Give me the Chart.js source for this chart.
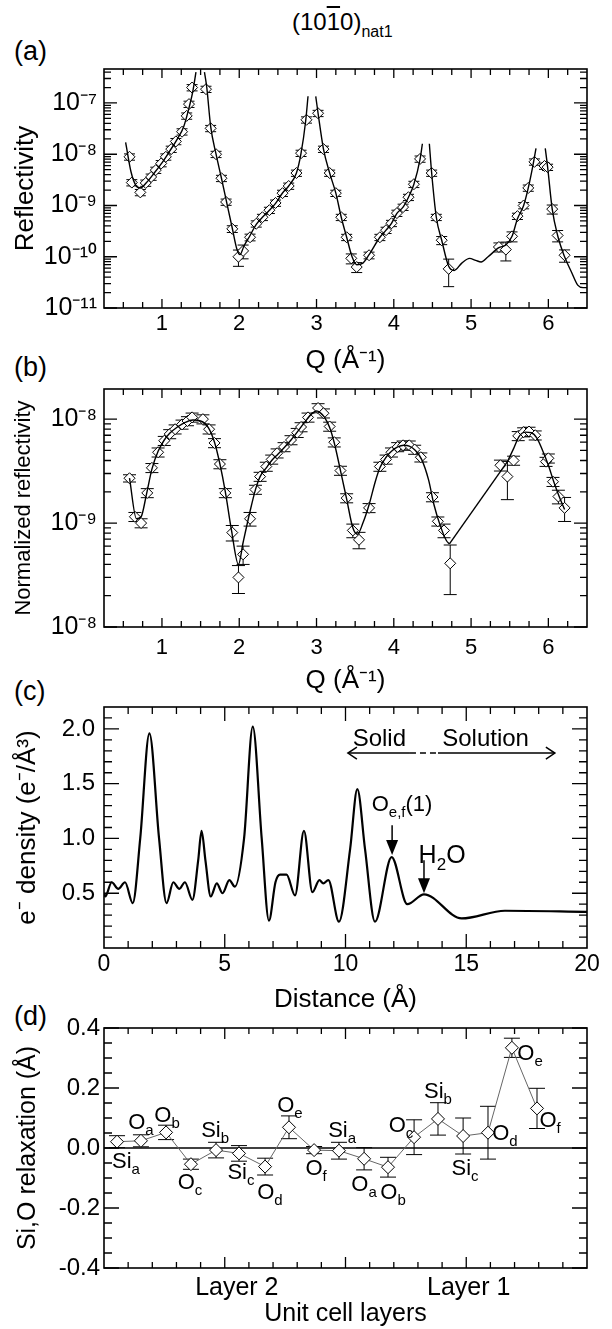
<!DOCTYPE html>
<html>
<head>
<meta charset="utf-8">
<script src="https://cdn.jsdelivr.net/npm/chart.js@4.4.1/dist/chart.umd.min.js"></script>
<style>
  body { margin: 0; background: #fff; width: 612px; height: 1329px; position: relative; overflow: hidden;
         font-family: "Liberation Sans", Arial, Helvetica, sans-serif; color: #000; }
  canvas { position: absolute; left: 0; }
  .tag { position: absolute; left: 14px; font-size: 27px; line-height: 1; }
</style>
</head>
<body>
<div class="tag" style="left:292px;top:10px;font-size:24px;">(10<span style="text-decoration:overline;">1</span>0)<span style="font-size:16px;position:relative;top:7px;">nat1</span></div>
<div class="tag" style="top:38px;">(a)</div>
<div class="tag" style="top:354px;">(b)</div>
<div class="tag" style="top:678px;">(c)</div>
<div class="tag" style="top:1003px;">(d)</div>

<canvas id="chartA" width="612" height="380" style="top:0px"></canvas>
<canvas id="chartB" width="612" height="340" style="top:360px"></canvas>
<canvas id="chartC" width="612" height="340" style="top:680px"></canvas>
<canvas id="chartD" width="612" height="329" style="top:1000px"></canvas>

<script>
// ---------- (a) reflectivity ----------
const qA = [0.58, 0.61, 0.72, 0.79, 0.86, 0.92, 0.99, 1.05, 1.12, 1.18,
            1.26, 1.32, 1.35, 1.39, 1.57, 1.63, 1.70, 1.77, 1.83, 1.91,
            1.99, 2.05, 2.14, 2.22, 2.30, 2.39, 2.47, 2.56, 2.64, 2.74,
            2.80, 2.87, 3.02, 3.09, 3.17, 3.25, 3.32, 3.39, 3.45, 3.52,
            3.68, 3.82, 3.90, 3.97, 4.04, 4.12, 4.19, 4.26, 4.34, 4.49,
            4.55, 4.62, 4.71, 5.36, 5.45, 5.53, 5.60, 5.68, 5.74, 5.82,
            5.95, 5.99, 6.05, 6.12, 6.21];
const rA = [8.9e-9, 2.8e-9, 1.8e-9, 2.75e-9, 3.6e-9, 4.9e-9, 6.6e-9, 8.9e-9, 1.26e-8, 1.78e-8,
            2.75e-8, 5.6e-8, 9.5e-8, 2.0e-7, 1.86e-7, 3.2e-8, 1.0e-8, 3.4e-9, 1.17e-9, 3.5e-10,
            1.0e-10, 1.3e-10, 2.4e-10, 4.4e-10, 5.9e-10, 8.1e-10, 1.12e-9, 1.74e-9, 2.4e-9, 4.3e-9,
            1.05e-8, 4.7e-8, 6.3e-8, 1.26e-8, 4.3e-9, 1.74e-9, 5.9e-10, 2.4e-10, 9.3e-11, 6.3e-11,
            1.07e-10, 2.4e-10, 3.3e-10, 4.5e-10, 7.1e-10, 9.3e-10, 1.45e-9, 2.6e-9, 8.1e-9, 4.3e-9,
            5.9e-10, 2.1e-10, 5.8e-11, 1.55e-10, 1.38e-10, 2.5e-10, 6.2e-10, 1.0e-9, 2.2e-9, 7.1e-9,
            5.9e-9, 5.6e-9, 8.5e-10, 2.6e-10, 1.07e-10];
// relative uncertainty of each point
const errA = [0.14, 0.14, 0.14, 0.14, 0.14, 0.14, 0.14, 0.14, 0.14, 0.14,
              0.14, 0.14, 0.14, 0.14, 0.14, 0.14, 0.14, 0.14, 0.14, 0.15,
              0.35, 0.30, 0.15, 0.14, 0.14, 0.14, 0.14, 0.14, 0.14, 0.14,
              0.14, 0.14, 0.14, 0.14, 0.14, 0.14, 0.14, 0.14, 0.22, 0.22,
              0.15, 0.14, 0.14, 0.14, 0.14, 0.14, 0.14, 0.14, 0.14, 0.14,
              0.14, 0.18, 0.55, 0.20, 0.40, 0.22, 0.14, 0.14, 0.14, 0.14,
              0.14, 0.14, 0.20, 0.25, 0.27];
// model curve (gaps where it leaves the plot near the Bragg peaks)
const fitQA = [0.53, 0.60, 0.66, 0.72, 0.80, 0.90, 1.00, 1.10, 1.20, 1.28, 1.35, 1.40, 1.44, 1.50,
               1.55, 1.58, 1.63, 1.70, 1.77, 1.84, 1.91, 1.97, 2.01, 2.06, 2.14, 2.22, 2.30, 2.39,
               2.47, 2.56, 2.64, 2.74, 2.80, 2.86, 2.89, 2.94,
               2.99, 3.02, 3.09, 3.17, 3.25, 3.32, 3.39, 3.46, 3.52, 3.60, 3.68, 3.82, 3.90, 3.97,
               4.04, 4.12, 4.19, 4.26, 4.34, 4.37, 4.42,
               4.46, 4.49, 4.55, 4.62, 4.71, 4.78, 4.88, 4.98, 5.06, 5.13, 5.22, 5.36, 5.45, 5.53,
               5.60, 5.68, 5.74, 5.80, 5.84, 5.90,
               5.96, 5.99, 6.05, 6.12, 6.21, 6.30, 6.38, 6.45, 6.50];
const fitRA = [1.7e-8, 4.5e-9, 2.5e-9, 2.2e-9, 2.8e-9, 4.3e-9, 6.8e-9, 1.15e-8, 2.0e-8, 3.4e-8, 8e-8, 1.7e-7, 4.0e-7, null,
               4.0e-7, 2.0e-7, 3.5e-8, 1.0e-8, 3.4e-9, 1.1e-9, 3.6e-10, 1.4e-10, 1.1e-10, 1.6e-10, 2.6e-10, 4.3e-10, 5.9e-10, 8.1e-10,
               1.1e-9, 1.75e-9, 2.4e-9, 4.3e-9, 1.05e-8, 4.5e-8, 1.35e-7, null,
               1.35e-7, 6.3e-8, 1.26e-8, 4.3e-9, 1.74e-9, 5.9e-10, 2.4e-10, 1.0e-10, 7e-11, 7.5e-11, 1.1e-10, 2.4e-10, 3.3e-10, 4.5e-10,
               7e-10, 9.3e-10, 1.45e-9, 2.6e-9, 8e-9, 1.6e-8, null,
               1.6e-8, 4.3e-9, 5.9e-10, 2.1e-10, 6.5e-11, 5.4e-11, 7.5e-11, 9.3e-11, 8.5e-11, 7.9e-11, 1.0e-10, 1.5e-10, 1.7e-10, 2.5e-10,
               5.5e-10, 1.0e-9, 2.2e-9, 6e-9, 1.3e-8, null,
               1.3e-8, 5.7e-9, 8.5e-10, 2.6e-10, 1.0e-10, 5e-11, 2.8e-11, 2.5e-11, 2.5e-11];
const qTicks = [1, 2, 3, 4, 5, 6];
const decadesA = [1e-11, 1e-10, 1e-9, 1e-8, 1e-7];
const decadeLabelsA = ['10⁻¹¹', '10⁻¹⁰', '10⁻⁹', '10⁻⁸', '10⁻⁷'];

// ---------- (b) normalized reflectivity ----------
const qB = [0.58, 0.65, 0.73, 0.81, 0.87, 0.95, 1.03, 1.10, 1.17, 1.26,
            1.33, 1.39, 1.53, 1.61, 1.68, 1.75, 1.82, 1.91, 1.99, 2.05,
            2.14, 2.21, 2.27, 2.35, 2.42, 2.49, 2.58, 2.67, 2.75, 2.80,
            2.89, 3.02, 3.09, 3.17, 3.23, 3.31, 3.39, 3.47, 3.55, 3.68,
            3.82, 3.90, 3.97, 4.05, 4.12, 4.20, 4.27, 4.35, 4.50, 4.57,
            4.65, 4.73, 5.38, 5.47, 5.55, 5.61, 5.68, 5.75, 5.83, 5.97,
            6.00, 6.06, 6.13, 6.21];
const rB = [2.7e-9, 1.15e-9, 1.0e-9, 1.95e-9, 3.4e-9, 4.8e-9, 6.2e-9, 7.2e-9, 8.0e-9, 8.9e-9,
            9.6e-9, 1.04e-8, 1.0e-8, 8.0e-9, 5.9e-9, 3.7e-9, 1.95e-9, 8.1e-10, 3.0e-10, 5.0e-10,
            1.1e-9, 2.1e-9, 2.8e-9, 3.5e-9, 4.1e-9, 4.7e-9, 5.4e-9, 6.3e-9, 7.4e-9, 8.4e-9,
            1.04e-8, 1.28e-8, 1.14e-8, 8.5e-9, 6.0e-9, 3.2e-9, 1.74e-9, 8.5e-10, 6.9e-10, 1.4e-9,
            3.5e-9, 4.1e-9, 4.8e-9, 5.4e-9, 5.6e-9, 5.6e-9, 5.1e-9, 4.3e-9, 1.78e-9, 1.04e-9,
            8.5e-10, 4.1e-10, 3.6e-9, 2.8e-9, 4.0e-9, 6.9e-9, 7.5e-9, 7.6e-9, 7.0e-9, 3.9e-9,
            4.2e-9, 2.5e-9, 1.8e-9, 1.4e-9];
const errB = [0.08, 0.10, 0.10, 0.10, 0.10, 0.10, 0.10, 0.10, 0.10, 0.10,
              0.10, 0.10, 0.10, 0.10, 0.10, 0.10, 0.10, 0.17, 0.30, 0.20,
              0.15, 0.10, 0.10, 0.10, 0.10, 0.10, 0.10, 0.10, 0.10, 0.10,
              0.10, 0.10, 0.10, 0.10, 0.10, 0.10, 0.10, 0.15, 0.18, 0.10,
              0.10, 0.10, 0.10, 0.10, 0.10, 0.10, 0.10, 0.10, 0.10, 0.10,
              0.15, 0.50, 0.12, 0.40, 0.10, 0.10, 0.10, 0.10, 0.10, 0.10,
              0.10, 0.10, 0.15, 0.26];
// model curve: smooth up to the 4.7 minimum, then a straight join, then smooth again
const fitQB1 = [0.58, 0.67, 0.73, 0.80, 0.87, 0.95, 1.03, 1.10, 1.20, 1.30, 1.40, 1.50, 1.60, 1.68, 1.75,
                1.82, 1.90, 1.99, 2.05, 2.14, 2.21, 2.27, 2.35, 2.42, 2.50, 2.58, 2.67, 2.75, 2.84, 2.94,
                3.00, 3.05, 3.10, 3.17, 3.23, 3.31, 3.39, 3.47, 3.53, 3.60, 3.68, 3.76, 3.82, 3.90, 3.97,
                4.05, 4.13, 4.20, 4.28, 4.36, 4.45, 4.52, 4.60, 4.68, 4.72];
const fitRB1 = [2.7e-9, 1.1e-9, 1.15e-9, 1.9e-9, 3.3e-9, 4.9e-9, 6.3e-9, 7.3e-9, 8.4e-9, 9.3e-9, 9.8e-9, 9.6e-9, 8.3e-9, 6.0e-9, 3.7e-9,
                2.0e-9, 8.5e-10, 4.0e-10, 6.5e-10, 1.3e-9, 2.1e-9, 2.8e-9, 3.4e-9, 4.0e-9, 4.6e-9, 5.3e-9, 6.3e-9, 7.5e-9, 9.2e-9, 1.13e-8,
                1.2e-8, 1.15e-8, 1.05e-8, 8.3e-9, 5.9e-9, 3.2e-9, 1.7e-9, 9e-10, 7.8e-10, 1.0e-9, 1.5e-9, 2.5e-9, 3.4e-9, 4.3e-9, 4.9e-9,
                5.4e-9, 5.6e-9, 5.5e-9, 5.0e-9, 4.1e-9, 2.6e-9, 1.5e-9, 9.5e-10, 6.8e-10, 6.3e-10];
const fitQB2 = [5.47, 5.55, 5.62, 5.70, 5.78, 5.85, 5.92, 6.00, 6.07, 6.14, 6.21];
const fitRB2 = [3.9e-9, 5.2e-9, 6.8e-9, 7.5e-9, 7.4e-9, 6.6e-9, 5.1e-9, 3.6e-9, 2.5e-9, 1.8e-9, 1.35e-9];
const decadesB = [1e-10, 1e-9, 1e-8];
const decadeLabelsB = ['10⁻⁸', '10⁻⁹', '10⁻⁸'];   // as printed in the figure

// ---------- (c) electron density ----------
const distC = [0.0, 0.05, 0.32, 0.59, 0.87, 1.19, 1.50, 1.88, 2.28, 2.59,
               2.87, 3.12, 3.35, 3.66, 3.90, 4.04, 4.20, 4.42, 4.67, 4.91,
               5.19, 5.42, 5.80, 6.16, 6.53, 6.83, 7.10, 7.29, 7.56, 7.91,
               8.28, 8.63, 8.92, 9.08, 9.29, 9.73, 10.19, 10.49, 10.81, 11.22,
               11.91, 12.56, 13.25, 14.81, 16.6, 20.0];
const rhoC = [0.50, 0.47, 0.60, 0.54, 0.60, 0.41, 1.00, 1.96, 1.00, 0.41,
              0.60, 0.54, 0.60, 0.44, 0.80, 1.07, 0.80, 0.47, 0.59, 0.50,
              0.62, 0.56, 1.00, 2.02, 1.00, 0.25, 0.60, 0.67, 0.67, 0.48,
              1.07, 0.51, 0.62, 0.59, 0.62, 0.24, 0.90, 1.45, 0.90, 0.24,
              0.83, 0.40, 0.49, 0.27, 0.34, 0.33];
const distTicks = [0, 5, 10, 15, 20];
const rhoTicks = [0.5, 1.0, 1.5, 2.0];

// ---------- (d) Si, O relaxations ----------
const siteNames = ['Si', 'O', 'O', 'O', 'Si', 'Si', 'O', 'O', 'O', 'Si', 'O', 'O', 'O', 'Si', 'Si', 'O', 'O', 'O'];
const siteSubs  = ['a', 'a', 'b', 'c', 'b', 'c', 'd', 'e', 'f', 'a', 'a', 'b', 'c', 'b', 'c', 'd', 'e', 'f'];
const posD = [0.54, 1.53, 2.57, 3.60, 4.64, 5.59, 6.67, 7.66, 8.70, 9.73,
              10.77, 11.76, 12.84, 13.83, 14.87, 15.90, 16.89, 17.93];
const relaxD = [0.021, 0.024, 0.052, -0.054, -0.007, -0.018, -0.062, 0.069, -0.007, -0.009,
                -0.036, -0.064, 0.036, 0.097, 0.040, 0.051, 0.334, 0.132];
const relaxErrD = [0.020, 0.020, 0.024, 0.017, 0.026, 0.026, 0.028, 0.038, 0.012, 0.028,
                   0.037, 0.033, 0.058, 0.054, 0.060, 0.088, 0.032, 0.067];
const relaxTicks = [-0.4, -0.2, 0.0, 0.2, 0.4];
const layerNames = ['Layer 2', 'Layer 1'];
const layerPos = [5.5, 15.1];
// where each site label sits (x on the layer axis, y in Å)
const labelXD = [0.91, 1.53, 2.61, 3.56, 4.60, 5.67, 6.87, 7.70, 8.78, 9.86,
                 10.77, 11.97, 12.30, 13.83, 14.95, 16.60, 17.64, 18.47];
const labelYD = [-0.040, 0.090, 0.113, -0.110, 0.063, -0.077, -0.143, 0.147, -0.063, 0.063,
                 -0.117, -0.143, 0.080, 0.193, -0.063, 0.053, 0.320, 0.097];

// ---------- helpers ----------
const FONT = '"Liberation Sans", Arial, Helvetica, sans-serif';
Chart.defaults.font.family = FONT;
Chart.defaults.color = '#000';

function steps(a, b, step, skip) {
  const out = [];
  for (let i = 0; a + i * step <= b + 1e-9; i++) {
    const v = +(a + i * step).toFixed(6);
    if (!skip || !skip.some(s => Math.abs(s - v) < 1e-9)) out.push(v);
  }
  return out;
}
function logMinor(lo, hi) {
  const out = [];
  for (let e = Math.floor(Math.log10(lo)); e <= Math.ceil(Math.log10(hi)); e++) {
    for (let m = 2; m <= 9; m++) {
      const v = m * Math.pow(10, e);
      if (v > lo && v < hi) out.push(v);
    }
  }
  return out;
}

function drawRich(ctx, parts, cx, cy, size, align) {
  const sub = Math.round(size * 0.68);
  const w = parts.map(p => { ctx.font = (p.sub ? sub : size) + 'px ' + FONT; return ctx.measureText(p.t).width; });
  const total = w.reduce((s, v) => s + v, 0);
  let x = align === 'left' ? cx : align === 'right' ? cx - total : cx - total / 2;
  const base = cy + size * 0.36;
  ctx.textAlign = 'left';
  ctx.textBaseline = 'alphabetic';
  ctx.fillStyle = '#000';
  parts.forEach((p, i) => {
    ctx.font = (p.sub ? sub : size) + 'px ' + FONT;
    ctx.fillText(p.t, x, p.sub ? base + size * 0.27 : base);
    x += w[i];
  });
}

const decor = {
  id: 'decor',
  beforeDatasetsDraw(chart, args, o) {
    const {ctx, chartArea: a, scales: {y: ys}} = chart;
    ctx.save();
    ctx.beginPath();
    ctx.rect(a.left, a.top, a.right - a.left, a.bottom - a.top);
    ctx.clip();
    if (o.zeroLine !== undefined) {
      const p = ys.getPixelForValue(o.zeroLine);
      ctx.strokeStyle = '#000';
      ctx.lineWidth = 1.6;
      ctx.beginPath(); ctx.moveTo(a.left, p); ctx.lineTo(a.right, p); ctx.stroke();
    }
    chart.data.datasets.forEach((ds, i) => {
      if (!ds.errLow) return;
      const meta = chart.getDatasetMeta(i);
      ctx.strokeStyle = '#000';
      ctx.lineWidth = 1;
      meta.data.forEach((pt, j) => {
        const y1 = ys.getPixelForValue(ds.errLow[j]);
        const y2 = ys.getPixelForValue(ds.errHigh[j]);
        const c = ds.errCap;
        ctx.beginPath();
        ctx.moveTo(pt.x, y1); ctx.lineTo(pt.x, y2);
        ctx.moveTo(pt.x - c, y1); ctx.lineTo(pt.x + c, y1);
        ctx.moveTo(pt.x - c, y2); ctx.lineTo(pt.x + c, y2);
        ctx.stroke();
      });
    });
    ctx.restore();
  },
  afterDraw(chart, args, o) {
    const {ctx, chartArea: a, scales: {x: xs, y: ys}} = chart;
    ctx.save();
    ctx.strokeStyle = '#000';
    // inward ticks on all four sides
    ctx.lineWidth = 1.3;
    ctx.beginPath();
    const xt = (vals, len) => vals.forEach(v => {
      const p = xs.getPixelForValue(v);
      ctx.moveTo(p, a.bottom); ctx.lineTo(p, a.bottom - len);
      ctx.moveTo(p, a.top); ctx.lineTo(p, a.top + len);
    });
    const yt = (vals, len) => vals.forEach(v => {
      const p = ys.getPixelForValue(v);
      ctx.moveTo(a.left, p); ctx.lineTo(a.left + len, p);
      ctx.moveTo(a.right, p); ctx.lineTo(a.right - len, p);
    });
    xt(o.xMajor, o.xMajLen); xt(o.xMinor, o.xMinLen);
    yt(o.yMajor, o.yMajLen); yt(o.yMinor, o.yMinLen);
    ctx.stroke();
    // frame
    ctx.lineWidth = 1.6;
    ctx.strokeRect(a.left, a.top, a.right - a.left, a.bottom - a.top);
    // arrows
    (o.arrows || []).forEach(ar => {
      ctx.lineWidth = 1.5;
      ctx.fillStyle = '#000';
      if (ar.kind === 'down') {
        const x = xs.getPixelForValue(ar.x);
        const y1 = ys.getPixelForValue(ar.y1), y2 = ys.getPixelForValue(ar.y2);
        ctx.beginPath(); ctx.moveTo(x, y1); ctx.lineTo(x, y2 - 12); ctx.stroke();
        ctx.beginPath(); ctx.moveTo(x - 6, y2 - 15); ctx.lineTo(x + 6, y2 - 15); ctx.lineTo(x, y2); ctx.closePath(); ctx.fill();
      } else {
        const y = ys.getPixelForValue(ar.y);
        const x1 = xs.getPixelForValue(ar.x1), x2 = xs.getPixelForValue(ar.x2);
        const d1 = xs.getPixelForValue(ar.dash[0]), d2 = xs.getPixelForValue(ar.dash[1]);
        ctx.beginPath(); ctx.moveTo(x1, y); ctx.lineTo(d1, y); ctx.moveTo(d2, y); ctx.lineTo(x2, y); ctx.stroke();
        ctx.setLineDash([6, 4]);
        ctx.beginPath(); ctx.moveTo(d1, y); ctx.lineTo(d2, y); ctx.stroke();
        ctx.setLineDash([]);
        ctx.beginPath();
        ctx.moveTo(x1 + 9, y - 6); ctx.lineTo(x1, y); ctx.lineTo(x1 + 9, y + 6);
        ctx.moveTo(x2 - 9, y - 6); ctx.lineTo(x2, y); ctx.lineTo(x2 - 9, y + 6);
        ctx.stroke();
      }
    });
    // text labels
    (o.texts || []).forEach(t => {
      drawRich(ctx, t.parts, xs.getPixelForValue(t.x), ys.getPixelForValue(t.y), t.size, t.align);
    });
    ctx.restore();
  }
};

function makePanel(id, p) {
  return new Chart(document.getElementById(id), {
    type: 'line',
    data: {datasets: p.datasets},
    options: {
      responsive: false,
      animation: false,
      devicePixelRatio: 1,
      layout: {padding: {top: p.top, right: 25, bottom: 0, left: 0}},
      plugins: {legend: {display: false}, tooltip: {enabled: false}, decor: p.decor},
      scales: {
        x: {
          type: 'linear', min: p.xMin, max: p.xMax,
          afterFit: s => { s.height = p.xH; },
          afterBuildTicks: s => { s.ticks = p.xTicks.map(v => ({value: v})); },
          grid: {display: false, drawTicks: false},
          border: {display: false},
          ticks: {autoSkip: false, maxRotation: 0, padding: p.xPad, font: {size: p.xFont}, color: '#000',
                  callback: p.xLabel},
          title: {display: true, text: p.xTitle, color: '#000', font: {size: p.xTitleSize},
                  padding: {top: 0, bottom: p.xTitlePad}}
        },
        y: {
          type: p.yType, min: p.yMin, max: p.yMax,
          afterFit: s => { s.width = 104; },
          afterBuildTicks: s => { s.ticks = p.yTicks.map(v => ({value: v})); },
          grid: {display: false, drawTicks: false},
          border: {display: false},
          ticks: {autoSkip: false, padding: p.yPad, font: {size: p.yFont}, color: '#000', callback: p.yLabel},
          title: {display: true, text: p.yTitle, color: '#000', font: {size: p.yTitleSize},
                  padding: {top: p.yTitlePad, bottom: 0}}
        }
      }
    },
    plugins: [decor]
  });
}

const pts = (xs, ys) => xs.map((x, i) => ({x: x, y: ys[i]}));
const fitStyle = {borderColor: '#000', borderWidth: 1.4, pointRadius: 0, cubicInterpolationMode: 'monotone', spanGaps: false};
const diamond = {showLine: false, pointStyle: 'rectRot', pointBackgroundColor: '#fff', pointBorderColor: '#000', pointBorderWidth: 1};

// (a)
makePanel('chartA', {
  top: 69, xH: 72, xMin: 0.25, xMax: 6.5, xTicks: qTicks, xPad: 3, xFont: 22,
  xLabel: v => String(v), xTitle: 'Q (Å⁻¹)', xTitleSize: 26, xTitlePad: 4,
  yType: 'logarithmic', yMin: 1e-11, yMax: 4.6e-7, yTicks: decadesA, yPad: 7, yFont: 25,
  yLabel: (v, i) => decadeLabelsA[i], yTitle: 'Reflectivity', yTitleSize: 26, yTitlePad: 10,
  datasets: [
    Object.assign({data: pts(fitQA, fitRA)}, fitStyle),
    Object.assign({data: pts(qA, rA), pointRadius: 5.5, errCap: 5.5,
      errLow: rA.map((r, i) => r * (1 - errA[i])), errHigh: rA.map((r, i) => r * (1 + errA[i]))}, diamond)
  ],
  decor: {xMajor: qTicks, xMinor: steps(0.5, 6.25, 0.25, qTicks), xMajLen: 9, xMinLen: 6,
          yMajor: decadesA, yMinor: logMinor(1e-11, 4.6e-7), yMajLen: 13, yMinLen: 7}
});

// (b)
const joinB = [fitQB1.length - 1, 0];
makePanel('chartB', {
  top: 29, xH: 73, xMin: 0.25, xMax: 6.5, xTicks: qTicks, xPad: 8, xFont: 22,
  xLabel: v => String(v), xTitle: 'Q (Å⁻¹)', xTitleSize: 26, xTitlePad: 4,
  yType: 'logarithmic', yMin: 1e-10, yMax: 1.95e-8, yTicks: decadesB, yPad: 7, yFont: 25,
  yLabel: (v, i) => decadeLabelsB[i], yTitle: 'Normalized reflectivity', yTitleSize: 22, yTitlePad: 11,
  datasets: [
    Object.assign({data: pts(fitQB1, fitRB1)}, fitStyle),
    Object.assign({data: pts([fitQB1[joinB[0]], fitQB2[joinB[1]]], [fitRB1[joinB[0]], fitRB2[joinB[1]]])}, fitStyle, {cubicInterpolationMode: 'default', tension: 0}),
    Object.assign({data: pts(fitQB2, fitRB2)}, fitStyle),
    Object.assign({data: pts(qB, rB), pointRadius: 5.5, errCap: 6.5,
      errLow: rB.map((r, i) => r * (1 - errB[i])), errHigh: rB.map((r, i) => r * (1 + errB[i]))}, diamond)
  ],
  decor: {xMajor: qTicks, xMinor: steps(0.5, 6.25, 0.25, qTicks), xMajLen: 9, xMinLen: 6,
          yMajor: decadesB, yMinor: logMinor(1e-10, 1.95e-8), yMajLen: 13, yMinLen: 7}
});

// (c)
makePanel('chartC', {
  top: 27, xH: 72, xMin: 0, xMax: 20, xTicks: distTicks, xPad: 3, xFont: 23,
  xLabel: v => String(v), xTitle: 'Distance (Å)', xTitleSize: 26, xTitlePad: 5,
  yType: 'linear', yMin: 0, yMax: 2.2, yTicks: rhoTicks, yPad: 9, yFont: 24,
  yLabel: v => v.toFixed(1), yTitle: 'e⁻ density (e⁻/Å³)', yTitleSize: 26, yTitlePad: 12,
  datasets: [
    {data: pts(distC, rhoC), borderColor: '#000', borderWidth: 2.2, pointRadius: 0, cubicInterpolationMode: 'monotone'}
  ],
  decor: {xMajor: [5, 10, 15], xMinor: steps(1, 19, 1, [5, 10, 15]), xMajLen: 14, xMinLen: 7,
          yMajor: rhoTicks, yMinor: steps(0.1, 2.1, 0.1, rhoTicks), yMajLen: 15, yMinLen: 8,
          arrows: [
            {kind: 'span', x1: 10.1, x2: 18.67, y: 1.78, dash: [12.67, 13.83]},
            {kind: 'down', x: 11.93, y1: 1.12, y2: 0.85},
            {kind: 'down', x: 13.25, y1: 0.80, y2: 0.50}
          ],
          texts: [
            {parts: [{t: 'Solid'}], x: 11.4, y: 1.92, size: 24},
            {parts: [{t: 'Solution'}], x: 15.8, y: 1.92, size: 24},
            {parts: [{t: 'O'}, {t: 'e,f', sub: true}, {t: '(1)'}], x: 12.34, y: 1.32, size: 22},
            {parts: [{t: 'H'}, {t: '2', sub: true}, {t: 'O'}], x: 14.0, y: 0.86, size: 25}
          ]}
});

// (d)
makePanel('chartD', {
  top: 28, xH: 61, xMin: 0, xMax: 20, xTicks: layerPos, xPad: 5, xFont: 25,
  xLabel: (v, i) => layerNames[i], xTitle: 'Unit cell layers', xTitleSize: 25, xTitlePad: 0,
  yType: 'linear', yMin: -0.4, yMax: 0.4, yTicks: relaxTicks, yPad: 4, yFont: 24,
  yLabel: v => v.toFixed(1), yTitle: 'Si,O relaxation (Å)', yTitleSize: 25, yTitlePad: 13,
  datasets: [
    {data: pts(posD, relaxD), showLine: true, borderColor: '#666', borderWidth: 1, tension: 0,
     pointStyle: 'rectRot', pointRadius: 6.5, pointBackgroundColor: '#fff', pointBorderColor: '#000', pointBorderWidth: 1,
     errCap: 8,
     errLow: relaxD.map((r, i) => r - relaxErrD[i]), errHigh: relaxD.map((r, i) => r + relaxErrD[i])}
  ],
  decor: {zeroLine: 0,
          xMajor: [5, 10, 15], xMinor: steps(1, 19, 1, [5, 10, 15]), xMajLen: 11, xMinLen: 6,
          yMajor: relaxTicks, yMinor: steps(-0.35, 0.35, 0.05, relaxTicks), yMajLen: 15, yMinLen: 8,
          texts: siteNames.map((n, i) => ({parts: [{t: n}, {t: siteSubs[i], sub: true}], x: labelXD[i], y: labelYD[i], size: 22}))}
});
</script>
</body>
</html>
